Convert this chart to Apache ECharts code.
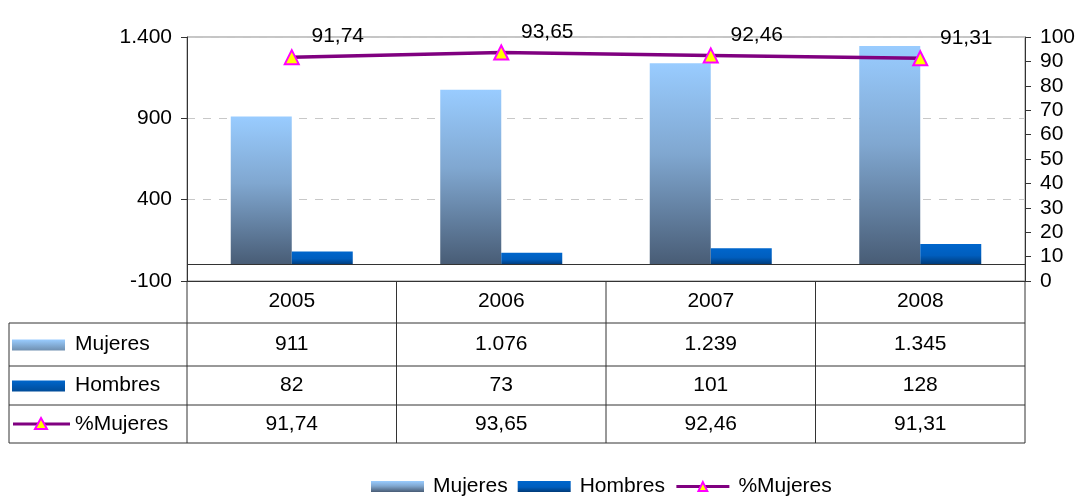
<!DOCTYPE html>
<html>
<head>
<meta charset="utf-8">
<script src="https://cdn.jsdelivr.net/npm/echarts@6.0.0/dist/echarts.min.js"></script>
<style>
html, body { margin: 0; padding: 0; background: #fff; }
#chart { width: 1080px; height: 496px; }
</style>
</head>
<body>
<div id="chart"></div>
<script>
// datos del gráfico
var years = ['2005', '2006', '2007', '2008'];
var mujeres = [911, 1076, 1239, 1345];
var hombres = [82, 73, 101, 128];
var pctMujeres = [91.74, 93.65, 92.46, 91.31];
// ejes
var leftMin = -100, leftMax = 1400, leftStep = 500;
var rightMin = 0, rightMax = 100, rightStep = 10;
var seriesNames = ['Mujeres', 'Hombres', '%Mujeres'];

var FONT = '"Liberation Sans", Arial, sans-serif';
var FS = 21;
var LINE = '#333';

function fmtMiles(v) { return String(v).replace(/\B(?=(\d{3})+(?!\d))/g, '.'); }
function fmtDec(v) { return v.toFixed(2).replace('.', ','); }

var gradMuj = new echarts.graphic.LinearGradient(0, 0, 0, 1, [
  { offset: 0, color: '#99CCFF' },
  { offset: 0.45, color: '#80A7D0' },
  { offset: 1, color: '#485C75' }
]);
var gradHom = new echarts.graphic.LinearGradient(0, 0, 0, 1, [
  { offset: 0, color: '#0066CC' },
  { offset: 0.55, color: '#005EBE' },
  { offset: 1, color: '#003A78' }
]);

var chart = echarts.init(document.getElementById('chart'));

var option = {
  animation: false,
  textStyle: { fontFamily: FONT },
  grid: { left: 187, right: 55, top: 37, bottom: 215, show: true, borderColor: '#8c8c8c', borderWidth: 1 },
  legend: {
    left: 371, top: 476, padding: 0,
    itemWidth: 53, itemHeight: 11, itemGap: 10,
    textStyle: { fontSize: FS, color: '#000', fontFamily: FONT, padding: [0, 0, 0, 4] },
    data: [
      { name: 'Mujeres', icon: 'rect' },
      { name: 'Hombres', icon: 'rect' },
      { name: '%Mujeres', lineStyle: { width: 3 } }
    ]
  },
  xAxis: {
    type: 'category',
    data: years,
    axisLine: { onZero: false, lineStyle: { color: LINE, width: 1 } },
    axisTick: { show: false },
    axisLabel: { fontSize: FS, color: '#000', margin: 10 }
  },
  yAxis: [
    {
      type: 'value', min: leftMin, max: leftMax, interval: leftStep,
      axisLine: { show: true, lineStyle: { color: LINE } },
      axisTick: { show: true, length: 6, lineStyle: { color: LINE } },
      axisLabel: { fontSize: FS, color: '#000', margin: 15, formatter: fmtMiles },
      splitLine: { lineStyle: { color: '#c8c8c8', type: [8, 8] } }
    },
    {
      type: 'value', min: rightMin, max: rightMax, interval: rightStep, position: 'right',
      axisLine: { show: true, lineStyle: { color: LINE } },
      axisTick: { show: true, length: 6, lineStyle: { color: LINE } },
      axisLabel: { fontSize: FS, color: '#000', margin: 15 },
      splitLine: { show: false }
    }
  ],
  series: [
    {
      name: 'Mujeres', type: 'bar', data: mujeres,
      barWidth: 61, barGap: '0%',
      itemStyle: { color: gradMuj },
      markLine: {
        silent: true, symbol: 'none', label: { show: false },
        lineStyle: { color: LINE, type: 'solid', width: 1 },
        data: [{ yAxis: 0 }]
      }
    },
    {
      name: 'Hombres', type: 'bar', data: hombres,
      barWidth: 61, barGap: '0%',
      itemStyle: { color: gradHom }
    },
    {
      name: '%Mujeres', type: 'line', yAxisIndex: 1, data: pctMujeres,
      z: 5,
      symbol: 'triangle', symbolSize: 14,
      lineStyle: { color: '#800080', width: 3.5 },
      itemStyle: { color: '#FFFF00', borderColor: '#FF00FF', borderWidth: 2 },
      label: {
        show: true, position: 'top', offset: [46, 3],
        fontSize: FS, color: '#000',
        formatter: function (p) { return fmtDec(p.value); }
      }
    }
  ]
};
chart.setOption(option);

// tabla de datos bajo el gráfico
var xs = years.map(function (y) { return chart.convertToPixel({ xAxisIndex: 0 }, y); });
var tblLeft = 187, tblRight = 1025, keyLeft = 9;
var rowTop = [281, 323, 366, 405, 443];
var rowVals = [
  years,
  mujeres.map(fmtMiles),
  hombres.map(fmtMiles),
  pctMujeres.map(fmtDec)
];

var els = [];
function hline(x1, x2, y) {
  els.push({ type: 'line', shape: { x1: x1, y1: y, x2: x2, y2: y }, style: { stroke: LINE, lineWidth: 1 }, silent: true });
}
function vline(x, y1, y2) {
  els.push({ type: 'line', shape: { x1: x, y1: y1, x2: x, y2: y2 }, style: { stroke: LINE, lineWidth: 1 }, silent: true });
}

// verticales
var bounds = [tblLeft];
for (var i = 0; i < xs.length - 1; i++) bounds.push((xs[i] + xs[i + 1]) / 2);
bounds.push(tblRight);
bounds.forEach(function (b) { vline(b, rowTop[0], rowTop[4]); });
vline(keyLeft, rowTop[1], rowTop[4]);
// horizontales
for (var r = 1; r < rowTop.length; r++) hline(keyLeft, tblRight, rowTop[r]);

// textos de celdas (la fila de años ya la pinta el eje)
for (var r = 1; r < rowVals.length; r++) {
  var cy = (rowTop[r] + rowTop[r + 1]) / 2;
  rowVals[r].forEach(function (t, i) {
    els.push({
      type: 'text', silent: true,
      style: { x: xs[i], y: cy, text: t, align: 'center', verticalAlign: 'middle', fill: '#000', font: FS + 'px ' + FONT }
    });
  });
  els.push({
    type: 'text', silent: true,
    style: { x: 75, y: cy, text: seriesNames[r - 1], align: 'left', verticalAlign: 'middle', fill: '#000', font: FS + 'px ' + FONT }
  });
}

// claves de leyenda en la tabla
var cy1 = (rowTop[1] + rowTop[2]) / 2, cy2 = (rowTop[2] + rowTop[3]) / 2, cy3 = (rowTop[3] + rowTop[4]) / 2;
els.push({ type: 'rect', silent: true, shape: { x: 12, y: cy1 - 5, width: 53, height: 11 },
  style: { fill: new echarts.graphic.LinearGradient(0, 0, 0, 1, [{ offset: 0, color: '#99CCFF' }, { offset: 1, color: '#6F8FB0' }]) } });
els.push({ type: 'rect', silent: true, shape: { x: 12, y: cy2 - 5, width: 53, height: 11 },
  style: { fill: new echarts.graphic.LinearGradient(0, 0, 0, 1, [{ offset: 0, color: '#0066CC' }, { offset: 1, color: '#004C99' }]) } });
els.push({ type: 'line', silent: true, shape: { x1: 13, y1: cy3, x2: 70, y2: cy3 }, style: { stroke: '#800080', lineWidth: 3 } });
els.push({ type: 'polygon', silent: true, shape: { points: [[41, cy3 - 6], [47, cy3 + 5], [35, cy3 + 5]] },
  style: { fill: '#FFFF00', stroke: '#FF00FF', lineWidth: 2 } });

chart.setOption({ graphic: { elements: els } });
</script>
</body>
</html>
